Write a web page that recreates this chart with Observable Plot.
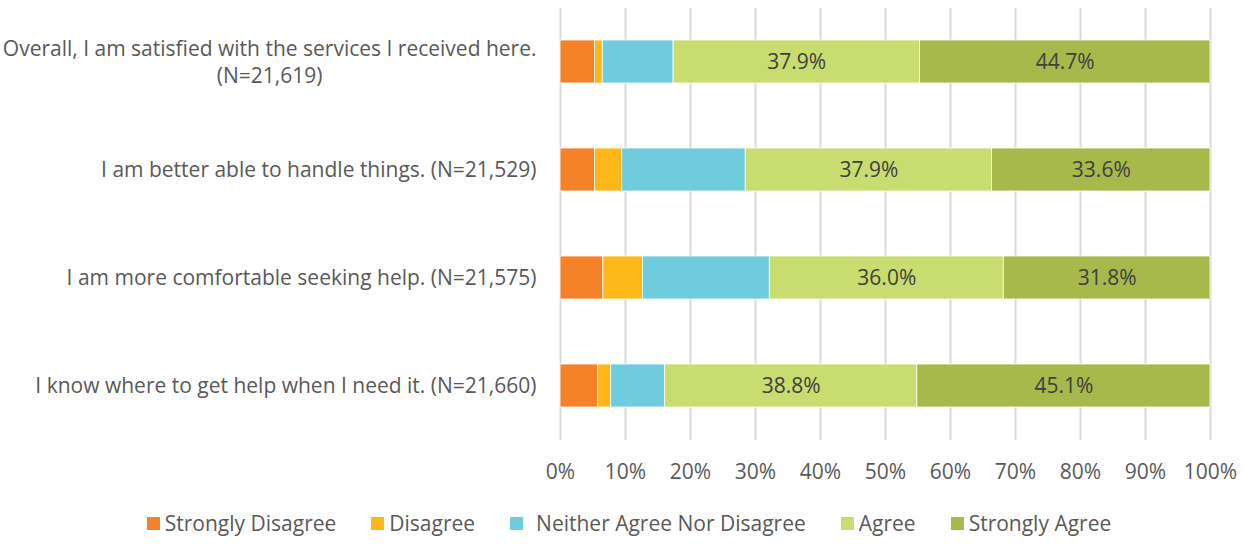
<!DOCTYPE html>
<html>
<head>
<meta charset="utf-8">
<script src="https://cdn.jsdelivr.net/npm/d3@7"></script>
<script src="https://cdn.jsdelivr.net/npm/@observablehq/plot@0.6"></script>
<style>
  html, body { margin: 0; padding: 0; background: #fff; }
  body { width: 1244px; height: 546px; overflow: hidden; font-family: "Open Sans", Lato, sans-serif; }
  #legend { display: flex; justify-content: center; align-items: center; gap: 35px; font-size: 21px; color: #595959; margin-top: 11px; padding-left: 14px; }
  .item { display: flex; align-items: center; gap: 5px; }
  .sw { width: 13px; height: 13px; display: inline-block; }
</style>
</head>
<body>
<div id="chart"></div>
<div id="legend"></div>
<script>
const questions = [
  "Overall, I am satisfied with the services I received here.\n(N=21,619)",
  "I am better able to handle things. (N=21,529)",
  "I am more comfortable seeking help. (N=21,575)",
  "I know where to get help when I need it. (N=21,660)"
];
const categories = ["Strongly Disagree", "Disagree", "Neither Agree Nor Disagree", "Agree", "Strongly Agree"];
const colors = ["#F58129", "#FDB719", "#6ECCDC", "#C9DC6F", "#A7B94A"];
const stronglyDisagree = [5.3, 5.3, 6.6, 5.8];
const disagree = [1.2, 4.2, 6.1, 2.0];
const neither = [10.9, 19.0, 19.5, 8.3];
const agree = [37.9, 37.9, 36.0, 38.8];
const stronglyAgree = [44.7, 33.6, 31.8, 45.1];
const xTicks = [0, 10, 20, 30, 40, 50, 60, 70, 80, 90, 100];

const series = [stronglyDisagree, disagree, neither, agree, stronglyAgree];
const data = [];
questions.forEach((q, i) => {
  categories.forEach((c, j) => data.push({question: q, category: c, value: series[j][i]}));
});
const labeled = new Set(["Agree", "Strongly Agree"]);

const FONT = "'Open Sans', Lato, sans-serif";
const FS = 21;
const ctx = document.createElement("canvas").getContext("2d");
ctx.font = `${FS}px 'Open Sans'`;
const gap = 24;
const single = questions.filter(q => !q.includes("\n"));
const multi = questions.filter(q => q.includes("\n"));
const multiOffset = q => {
  const w = Math.max(...q.split("\n").map(s => ctx.measureText(s).width));
  return -(gap + w / 2);
};

const plot = Plot.plot({
  width: 1244,
  height: 498,
  marginLeft: 560,
  marginRight: 34,
  marginTop: 8,
  marginBottom: 58,
  style: {fontFamily: FONT, fontSize: FS + "px", color: "#595959", background: "#fff"},
  x: {domain: [0, 100]},
  y: {domain: questions, paddingInner: 0.6, paddingOuter: 0.3, axis: null},
  color: {domain: categories, range: colors},
  marks: [
    Plot.gridX(xTicks, {stroke: "#D9D9D9", strokeOpacity: 1, strokeWidth: 2}),
    Plot.axisX(xTicks, {tickSize: 0, tickPadding: 24, tickFormat: d => d + "%", fill: "#595959", fontSize: FS, label: null}),
    Plot.barX(data, Plot.stackX({x: "value", y: "question", fill: "category", order: categories, stroke: "#fff", strokeWidth: 0.8})),
    Plot.text(data, Plot.stackX({x: "value", y: "question", z: "category", order: categories,
      text: d => labeled.has(d.category) ? d.value.toFixed(1) + "%" : "",
      fill: "#404040", fontSize: FS})),
    Plot.text(single, {y: d => d, frameAnchor: "left", dx: -gap, textAnchor: "end", fill: "#595959", fontSize: FS}),
    ...multi.map(q => Plot.text([q], {y: d => d, frameAnchor: "left", dx: multiOffset(q), dy: -1, textAnchor: "middle", lineHeight: 1.25, fill: "#595959", fontSize: FS}))
  ]
});
document.getElementById("chart").appendChild(plot);

const legend = document.getElementById("legend");
categories.forEach((c, i) => {
  const item = document.createElement("div");
  item.className = "item";
  const sw = document.createElement("span");
  sw.className = "sw";
  sw.style.background = colors[i];
  const t = document.createElement("span");
  t.textContent = c;
  if (c.startsWith("Neither")) t.style.marginLeft = "8px";
  item.appendChild(sw);
  item.appendChild(t);
  legend.appendChild(item);
});
</script>
</body>
</html>
